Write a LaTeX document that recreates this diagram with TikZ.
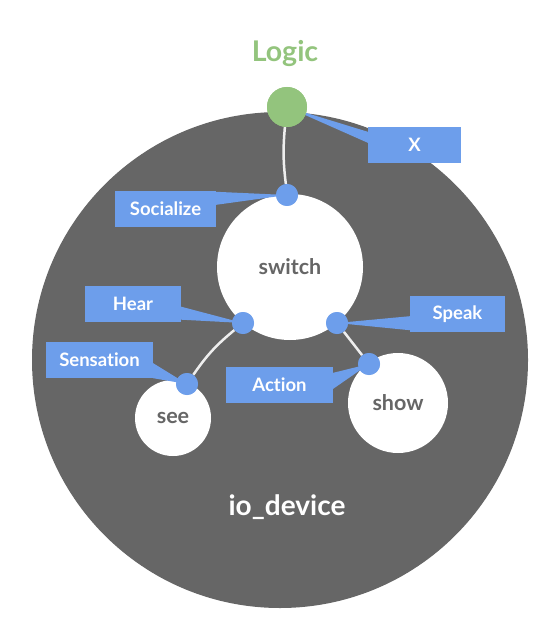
\documentclass[tikz,border=0pt]{standalone}
\usepackage{fontspec}
\setmainfont{Lato}[Ligatures=NoCommon]
\usetikzlibrary{calc}
\definecolor{cblue}{HTML}{6D9EEB}
\definecolor{cgreen}{HTML}{93C47D}
\definecolor{cgray}{HTML}{666666}
\definecolor{cline}{HTML}{EEEEEE}
\tikzset{
  labelbox/.style={fill=cblue, draw=none, text=white, inner sep=0pt,
    minimum height=36pt, font=\bfseries\fontsize{18.5}{20}\selectfont},
  port/.style={circle, fill=cblue, draw=none, minimum size=22pt, inner sep=0pt},
  unit/.style={circle, fill=white, draw=none, inner sep=0pt, text=cgray,
    font=\bfseries\fontsize{21.5}{23}\selectfont},
  wire/.style={draw=cline, line width=2.5pt},
  wedge/.style={fill=cblue, draw=none}
}
\begin{document}
\begin{tikzpicture}[x=1pt,y=-1pt]
\useasboundingbox (0,0) rectangle (555,644);
% outer device
\node[circle, fill=cgray, draw=none, minimum size=496pt, inner sep=0pt] (io) at (280,360) {};
\node[text=white, font=\bfseries\fontsize{28}{30}\selectfont] (iolabel) at (287,507) {io\_device};
% inner units
\node[unit, minimum size=146pt] (switch) at (290,267) {switch};
\node[unit, minimum size=76pt] (see) at (173,418) {see};
\node[unit, minimum size=100pt] (show) at (398,403) {show};
% logic
\node[text=cgreen, font=\bfseries\fontsize{28.5}{30}\selectfont] (logiclabel) at (285,54) {Logic};
\node[circle, fill=cgreen, draw=none, minimum size=40pt, inner sep=0pt] (logic) at (287,107) {};
% ports
\node[port] (psoc) at (287,195) {};
\node[port] (phear) at (243,323) {};
\node[port] (psens) at (187,384) {};
\node[port] (pspeak) at (337,323) {};
\node[port] (paction) at (369,364) {};
% label boxes
\node[labelbox, minimum width=93pt] (bx) at (414.5,145) {X};
\node[labelbox, minimum width=101pt] (bsoc) at (165.5,209) {Socialize};
\node[labelbox, minimum width=96pt] (bhear) at (133,303.5) {Hear};
\node[labelbox, minimum width=107pt] (bsens) at (99.5,360) {Sensation};
\node[labelbox, minimum width=95pt] (bspeak) at (457.5,314) {Speak};
\node[labelbox, minimum width=107pt] (baction) at (279.5,385) {Action};
% wedges
\fill[wedge] (logic.center) -- ($(bx.north west)+(0,5)$) -- ($(bx.north west)+(0,16)$) -- cycle;
\fill[wedge] (psoc.center) -- ($(bsoc.north east)+(0,1)$) -- ($(bsoc.north east)+(0,14)$) -- cycle;
\fill[wedge] (phear.center) -- ($(bhear.south east)+(0,-15)$) -- ($(bhear.south east)+(0,-2)$) -- cycle;
\fill[wedge] (psens.center) -- ($(bsens.south east)+(0,-15)$) -- ($(bsens.south east)+(0,0)$) -- cycle;
\fill[wedge] (pspeak.center) -- ($(bspeak.south west)+(0,-16)$) -- ($(bspeak.south west)+(0,-2)$) -- cycle;
\fill[wedge] (paction.center) -- ($(baction.north east)+(0,6)$) -- ($(baction.north east)+(0,22)$) -- cycle;
% wires
\draw[wire] (logic) to[bend right=6] (psoc);
\draw[wire] (phear) to[bend right=8] (psens);
\draw[wire] (pspeak) -- (paction);
% redraw ports and logic on top
\node[circle, fill=cgreen, draw=none, minimum size=40pt, inner sep=0pt] at (logic.center) {};
\foreach \p in {psoc,phear,psens,pspeak,paction}{
  \node[port] at (\p.center) {};
}
\end{tikzpicture}
\end{document}
